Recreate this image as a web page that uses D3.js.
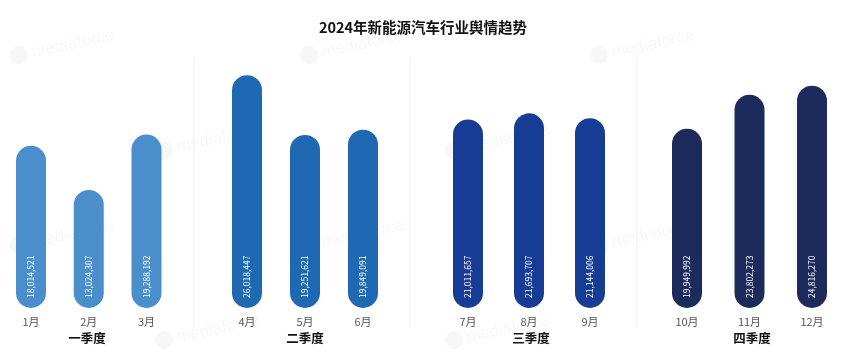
<!DOCTYPE html>
<html><head><meta charset="utf-8">
<script src="https://cdn.jsdelivr.net/npm/d3@7"></script>
<style>body{margin:0;background:#fff}svg{display:block}</style></head>
<body><svg id="c" width="845" height="361"></svg>
<script>
const title = "2024年新能源汽车行业舆情趋势";
const months = ["1月","2月","3月","4月","5月","6月","7月","8月","9月","10月","11月","12月"];
const values = [18014521,13024307,19288192,26018447,19251621,19849091,21011657,21693707,21144006,19949992,23802273,24816270];
const quarters = ["一季度","二季度","三季度","四季度"];
const quarterColors = ["#4a8fcb","#1f69b2","#173c93","#1c2b5b"];

const W = 845, H = 361;
const svg = d3.select("#c");
const font = "'Noto Sans CJK SC','Noto Sans',sans-serif";

// watermark (decorative), only tiles fully inside the canvas
const wm = svg.append("g").attr("opacity", 0.035);
for (let r = 0; r < 4; r++) {
  for (let c = 0; c < 4; c++) {
    const x = c * 290 + (r % 2 ? 145 : 0) + 20;
    const y = r * 95 + 60;
    if (x + 115 > W || y > H - 8) continue;
    const g = wm.append("g").attr("transform", `translate(${x},${y}) rotate(-12)`);
    g.append("circle").attr("cx", 0).attr("cy", -5).attr("r", 9).attr("fill", "#000");
    g.append("text").attr("x", 13).attr("y", 0).text("mediaforce")
      .attr("font-family", "Arial, sans-serif").attr("font-size", 17).attr("fill", "#000");
  }
}

svg.append("text").attr("x", 423).attr("y", 33).attr("text-anchor", "middle")
  .attr("font-family", font).attr("font-weight", "bold").attr("font-size", 14.5)
  .attr("fill", "#111").text(title);

const y = d3.scaleLinear().domain([0, 30000000]).range([305, 40]);
const qRanges = [[31, 146.5], [247, 363], [468, 590], [687, 812]];
const dividers = [194, 410, 637];
const qLabelX = [87, 305, 531, 752];
const fmt = d3.format(",");
const barW = 30;

svg.append("g").selectAll("line").data(dividers).join("line")
  .attr("x1", d => d).attr("x2", d => d).attr("y1", 57).attr("y2", 328)
  .attr("stroke", "#efefef").attr("stroke-width", 1);

quarters.forEach((q, qi) => {
  const ms = months.slice(qi * 3, qi * 3 + 3);
  const vs = values.slice(qi * 3, qi * 3 + 3);
  const x = d3.scalePoint().domain(ms).range(qRanges[qi]);
  const data = ms.map((m, i) => ({ m, v: vs[i] }));
  const g = svg.append("g");
  g.selectAll("rect").data(data).join("rect")
    .attr("x", d => x(d.m) - barW / 2).attr("width", barW)
    .attr("y", d => y(d.v)).attr("height", d => y(0) - y(d.v) + 3)
    .attr("rx", barW / 2).attr("ry", barW / 2)
    .attr("fill", quarterColors[qi]);
  g.selectAll("text.val").data(data).join("text").attr("class", "val")
    .attr("transform", d => `translate(${x(d.m) + 3},298) rotate(-90)`)
    .attr("text-anchor", "start").attr("font-family", font).attr("font-size", 8.5)
    .attr("fill", "#fff").text(d => fmt(d.v));
  g.selectAll("text.m").data(data).join("text").attr("class", "m")
    .attr("x", d => x(d.m)).attr("y", 326).attr("text-anchor", "middle")
    .attr("font-family", font).attr("font-size", 11).attr("fill", "#555").text(d => d.m);
  g.append("text").attr("x", qLabelX[qi]).attr("y", 343).attr("text-anchor", "middle")
    .attr("font-family", font).attr("font-weight", "bold").attr("font-size", 12.5)
    .attr("fill", "#111").text(q);
});
</script></body></html>
